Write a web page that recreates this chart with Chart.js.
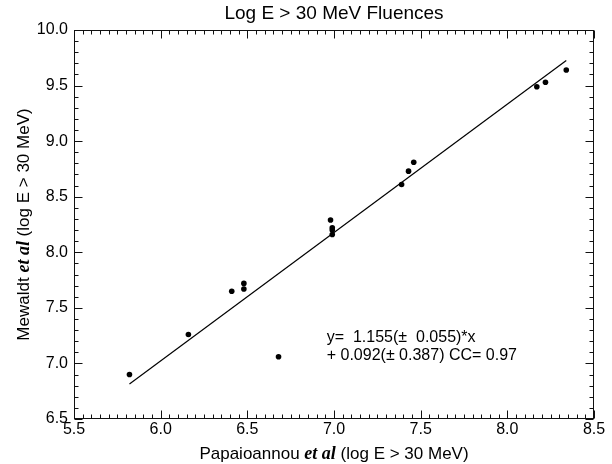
<!DOCTYPE html>
<html>
<head>
<meta charset="utf-8">
<script src="https://cdn.jsdelivr.net/npm/chart.js@4.4.1/dist/chart.umd.min.js"></script>
<style>
  html, body { margin: 0; padding: 0; background: #fff; }
  #wrap { width: 612px; height: 464px; }
</style>
</head>
<body>
<div id="wrap"><canvas id="chart" width="612" height="464"></canvas></div>
<script>
// --- data ---
const papaioannou = [5.82, 6.16, 6.41, 6.48, 6.48, 6.68, 6.98, 6.99, 6.99, 6.99, 7.39, 7.43, 7.46, 8.17, 8.22, 8.34];
const mewaldt     = [6.90, 7.26, 7.65, 7.67, 7.72, 7.06, 8.29, 8.22, 8.20, 8.16, 8.61, 8.73, 8.81, 9.49, 9.53, 9.64];

const fitSlope = 1.155;
const fitIntercept = 0.092;

const xTicks = [5.5, 6.0, 6.5, 7.0, 7.5, 8.0, 8.5];
const yTicks = [6.5, 7.0, 7.5, 8.0, 8.5, 9.0, 9.5, 10.0];

const titleText = 'Log E > 30 MeV Fluences';
const fitLines = ['y=  1.155(\u00b1  0.055)*x', '+ 0.092(\u00b1 0.387) CC= 0.97'];

const SANS = "'Liberation Sans', Arial, Helvetica, sans-serif";
const SERIF = "'Liberation Serif', 'Times New Roman', serif";

// fit line over the range of the x data
const xMin = Math.min(...papaioannou);
const xMax = Math.max(...papaioannou);
const fitPoints = [xMin, xMax].map(x => ({ x, y: fitSlope * x + fitIntercept }));

// mixed-font axis titles ("et al" bold italic serif)
function drawMixed(ctx, parts, cx, cy) {
  let total = 0;
  parts.forEach(p => { ctx.font = p.font; p.w = ctx.measureText(p.text).width; total += p.w; });
  let x = cx - total / 2;
  ctx.textBaseline = 'middle';
  ctx.textAlign = 'left';
  parts.forEach(p => { ctx.font = p.font; ctx.fillText(p.text, x, cy); x += p.w; });
}

const framePlugin = {
  id: 'frame',
  afterDraw(chart) {
    const { ctx, chartArea: a, scales: { x, y } } = chart;
    ctx.save();
    ctx.strokeStyle = '#111';
    ctx.lineWidth = 1;
    const L = Math.round(a.left) + 0.5, R = Math.round(a.right) - 0.5;
    const T = Math.round(a.top) + 0.5, B = Math.round(a.bottom) - 0.5;
    ctx.strokeRect(L, T, R - L, B - T);

    ctx.beginPath();
    // x ticks: major 0.5, minor 0.05
    for (let i = 0; i <= 60; i++) {
      const px = Math.round(x.getPixelForValue(5.5 + i * 0.05)) + 0.5;
      const len = i % 10 === 0 ? 8 : 4;
      ctx.moveTo(px, B); ctx.lineTo(px, B - len);
      ctx.moveTo(px, T); ctx.lineTo(px, T + len);
    }
    // y ticks: major 0.5, minor 0.1
    for (let i = 0; i <= 35; i++) {
      const py = Math.round(y.getPixelForValue(6.5 + i * 0.1)) + 0.5;
      const len = i % 5 === 0 ? 8 : 4;
      ctx.moveTo(L, py); ctx.lineTo(L + len, py);
      ctx.moveTo(R, py); ctx.lineTo(R - len, py);
    }
    ctx.stroke();

    ctx.fillStyle = '#000';
    // title
    ctx.font = '19px ' + SANS;
    ctx.textAlign = 'center';
    ctx.textBaseline = 'middle';
    ctx.fillText(titleText, (a.left + a.right) / 2, 14);

    // x axis title
    drawMixed(ctx, [
      { text: 'Papaioannou ', font: '17px ' + SANS },
      { text: 'et al', font: 'italic bold 18px ' + SERIF },
      { text: ' (log E > 30 MeV)', font: '17px ' + SANS }
    ], (a.left + a.right) / 2, 454);

    // y axis title
    ctx.save();
    ctx.translate(24, (a.top + a.bottom) / 2);
    ctx.rotate(-Math.PI / 2);
    drawMixed(ctx, [
      { text: 'Mewaldt ', font: '17px ' + SANS },
      { text: 'et al', font: 'italic bold 18px ' + SERIF },
      { text: ' (log E > 30 MeV)', font: '17px ' + SANS }
    ], 0, 0);
    ctx.restore();

    // fit annotation
    ctx.font = '16px ' + SANS;
    ctx.textAlign = 'left';
    ctx.textBaseline = 'middle';
    const ax = x.getPixelForValue(6.958);
    ctx.fillText(fitLines[0], ax, y.getPixelForValue(7.235));
    ctx.fillText(fitLines[1], ax, y.getPixelForValue(7.066));
    ctx.restore();
  }
};

new Chart(document.getElementById('chart'), {
  type: 'scatter',
  data: {
    datasets: [
      {
        label: 'events',
        data: papaioannou.map((v, i) => ({ x: v, y: mewaldt[i] })),
        pointRadius: 2.8,
        pointBackgroundColor: '#000',
        pointBorderWidth: 0,
        showLine: false
      },
      {
        label: 'fit',
        type: 'line',
        data: fitPoints,
        borderColor: '#000',
        borderWidth: 1.2,
        pointRadius: 0,
        fill: false
      }
    ]
  },
  options: {
    responsive: false,
    animation: false,
    layout: { padding: { top: 30, right: 18, left: 0, bottom: 0 } },
    plugins: { legend: { display: false }, tooltip: { enabled: false }, title: { display: false } },
    scales: {
      x: {
        type: 'linear',
        min: 5.5, max: 8.5,
        afterFit: s => { s.height = 45; },
        afterBuildTicks: s => { s.ticks = xTicks.map(v => ({ value: v })); },
        grid: { display: false, drawTicks: false },
        border: { display: false },
        ticks: {
          color: '#000', padding: 1, maxRotation: 0, autoSkip: false,
          font: { family: SANS, size: 16 },
          callback: v => v.toFixed(1)
        }
      },
      y: {
        type: 'linear',
        min: 6.5, max: 10,
        afterFit: s => { s.width = 74; },
        afterBuildTicks: s => { s.ticks = yTicks.map(v => ({ value: v })); },
        grid: { display: false, drawTicks: false },
        border: { display: false },
        ticks: {
          color: '#000', padding: 6, autoSkip: false,
          font: { family: SANS, size: 16 },
          callback: v => v.toFixed(1)
        }
      }
    }
  },
  plugins: [framePlugin]
});
</script>
</body>
</html>
